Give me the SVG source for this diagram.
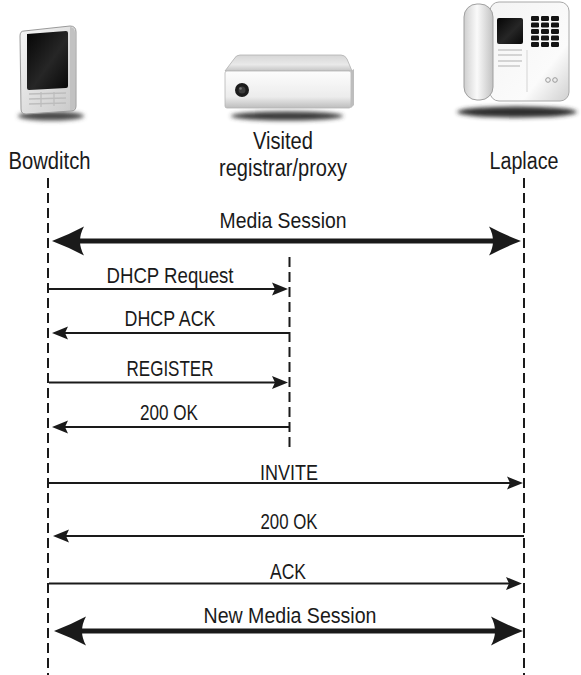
<svg xmlns="http://www.w3.org/2000/svg" width="581" height="675" viewBox="0 0 581 675">
  <style>
    text { font-family: "Liberation Sans", Arial, sans-serif; fill: #1a1a1a; text-anchor: middle; }
    .node-label { font-size: 23.5px; }
    .msg-label { font-size: 22px; }
    .lifeline { stroke: #1a1a1a; stroke-width: 2; stroke-dasharray: 10 5; fill: none; }
    .msg { stroke: #1a1a1a; stroke-width: 2; fill: none; marker-end: url(#ah); }
    .session { stroke: #1a1a1a; stroke-width: 5; fill: none; marker-start: url(#ahb); marker-end: url(#ahb); }
  </style>
  <defs>
    <marker id="ah" markerUnits="userSpaceOnUse" viewBox="0 0 16 14" refX="8" refY="7" markerWidth="16" markerHeight="14" orient="auto-start-reverse">
      <path d="M0,0.5 L16,7 L0,13.5 L3,7 Z" fill="#1a1a1a"/>
    </marker>
    <marker id="ahb" markerUnits="userSpaceOnUse" viewBox="0 0 32 30" refX="12" refY="15" markerWidth="32" markerHeight="30" orient="auto-start-reverse">
      <path d="M0,0.5 Q16,9 32,15 Q16,21 0,29.5 Q8,15 0,0.5 Z" fill="#1a1a1a"/>
    </marker>
    <filter id="soft" x="-30%" y="-100%" width="160%" height="300%">
      <feGaussianBlur stdDeviation="2.2"/>
    </filter>
    <linearGradient id="bodyGrad" x1="0" y1="0" x2="1" y2="1">
      <stop offset="0" stop-color="#f7f7f7"/>
      <stop offset="1" stop-color="#c8c8c8"/>
    </linearGradient>
    <linearGradient id="screenGrad" x1="0" y1="0" x2="1" y2="1">
      <stop offset="0" stop-color="#050505"/>
      <stop offset="0.55" stop-color="#262626"/>
      <stop offset="1" stop-color="#080808"/>
    </linearGradient>
    <linearGradient id="topGrad" x1="0" y1="0" x2="0" y2="1">
      <stop offset="0" stop-color="#d6d6d6"/>
      <stop offset="0.6" stop-color="#e9e9e9"/>
      <stop offset="1" stop-color="#c4c4c4"/>
    </linearGradient>
    <linearGradient id="frontGrad" x1="0" y1="0" x2="0" y2="1">
      <stop offset="0" stop-color="#fdfdfd"/>
      <stop offset="0.7" stop-color="#ececec"/>
      <stop offset="1" stop-color="#bdbdbd"/>
    </linearGradient>
    <linearGradient id="handsetGrad" x1="0" y1="0" x2="1" y2="0">
      <stop offset="0" stop-color="#cfcfcf"/>
      <stop offset="0.45" stop-color="#fafafa"/>
      <stop offset="1" stop-color="#c2c2c2"/>
    </linearGradient>
    <linearGradient id="baseGrad" x1="0" y1="0" x2="1" y2="1">
      <stop offset="0" stop-color="#f4f4f4"/>
      <stop offset="0.7" stop-color="#fbfbfb"/>
      <stop offset="1" stop-color="#d0d0d0"/>
    </linearGradient>
  </defs>

  <!-- Bowditch: handheld device -->
  <g id="bowditch">
    <ellipse cx="51" cy="116" rx="33" ry="4.5" fill="#4a4a4a" filter="url(#soft)"/>
    <path d="M24,31 L70,26 Q76,26 76,32 L76,106 Q76,111 71,111 L26,114 Q21,114 21,109 L20,36 Q20,31 24,31 Z" fill="url(#bodyGrad)" stroke="#9a9a9a" stroke-width="1"/>
    <path d="M70,27 Q75,27 75,33 L75,106 Q75,110 71,110 L70,110 Z" fill="#c2c2c2"/>
    <path d="M27,34 L66,31 Q68,31 68,33 L68,86 Q68,88 66,88 L29,90 Q27,90 27,88 Z" fill="url(#screenGrad)"/>
    <g stroke="#bdbdbd" stroke-width="1.3">
      <line x1="29" y1="94" x2="66" y2="93"/>
      <line x1="29" y1="99" x2="66" y2="98"/>
      <line x1="29" y1="104" x2="66" y2="103"/>
      <line x1="41" y1="92" x2="41" y2="107"/>
      <line x1="54" y1="92" x2="54" y2="106"/>
    </g>
    <text class="node-label" x="49.5" y="168.5" textLength="82" lengthAdjust="spacingAndGlyphs">Bowditch</text>
  </g>

  <!-- Visited registrar/proxy: server box -->
  <g id="proxy">
    <ellipse cx="287" cy="116" rx="56" ry="4.5" fill="#3a3a3a" filter="url(#soft)"/>
    <path d="M240,55 L341,55 Q345,55 347,59 L352,71 L225,71 L234,59 Q236,55 240,55 Z" fill="url(#topGrad)" stroke="#b0b0b0" stroke-width="0.8"/>
    <rect x="225" y="71" width="126" height="37" rx="2" fill="url(#frontGrad)" stroke="#b5b5b5" stroke-width="0.8"/>
    <path d="M351,71 L354,69 L354,105 L351,108 Z" fill="#bdbdbd"/>
    <circle cx="242" cy="90" r="7" fill="#1c1c1c"/>
    <circle cx="242" cy="90" r="3.5" fill="#3c3c3c"/>
    <circle cx="240.5" cy="88.5" r="1.3" fill="#777"/>
    <text class="node-label" x="283" y="148.5" textLength="60" lengthAdjust="spacingAndGlyphs">Visited</text>
    <text class="node-label" x="283" y="176" textLength="128" lengthAdjust="spacingAndGlyphs">registrar/proxy</text>
  </g>

  <!-- Laplace: desk phone -->
  <g id="laplace">
    <ellipse cx="517" cy="112" rx="60" ry="5.5" fill="#2e2e2e" filter="url(#soft)"/>
    <rect x="490" y="2" width="79" height="99" rx="9" fill="url(#baseGrad)" stroke="#a8a8a8" stroke-width="1"/>
    <rect x="464" y="4" width="29" height="96" rx="13" fill="url(#handsetGrad)" stroke="#a0a0a0" stroke-width="1"/>
    <rect x="497" y="18" width="26" height="26" rx="2" fill="url(#screenGrad)"/>
    <g fill="#141414">
      <rect x="531" y="16" width="8" height="5" rx="1.2"/>
      <rect x="541" y="16" width="8" height="5" rx="1.2"/>
      <rect x="551" y="16" width="8" height="5" rx="1.2"/>
      <rect x="531" y="22.5" width="8" height="5" rx="1.2"/>
      <rect x="541" y="22.5" width="8" height="5" rx="1.2"/>
      <rect x="551" y="22.5" width="8" height="5" rx="1.2"/>
      <rect x="531" y="29" width="8" height="5" rx="1.2"/>
      <rect x="541" y="29" width="8" height="5" rx="1.2"/>
      <rect x="551" y="29" width="8" height="5" rx="1.2"/>
      <rect x="531" y="35.5" width="8" height="5" rx="1.2"/>
      <rect x="541" y="35.5" width="8" height="5" rx="1.2"/>
      <rect x="551" y="35.5" width="8" height="5" rx="1.2"/>
      <rect x="531" y="42" width="8" height="5" rx="1.2"/>
      <rect x="541" y="42" width="8" height="5" rx="1.2"/>
      <rect x="551" y="42" width="8" height="5" rx="1.2"/>
    </g>
    <g stroke="#bcbcbc" stroke-width="1.2">
      <line x1="498" y1="50" x2="522" y2="50"/>
      <line x1="498" y1="55" x2="522" y2="55"/>
      <line x1="498" y1="61" x2="522" y2="61"/>
      <line x1="498" y1="66" x2="520" y2="66"/>
      <line x1="527" y1="50" x2="527" y2="92" stroke="#dadada"/>
    </g>
    <circle cx="548" cy="80" r="2.3" fill="none" stroke="#9a9a9a" stroke-width="1"/>
    <circle cx="555" cy="80" r="2.3" fill="none" stroke="#9a9a9a" stroke-width="1"/>
    <text class="node-label" x="524" y="168.5" textLength="69" lengthAdjust="spacingAndGlyphs">Laplace</text>
  </g>

  <!-- Lifelines and messages -->
  <g id="connectors">
    <line class="lifeline" x1="48" y1="178" x2="48" y2="675"/>
    <line class="lifeline" x1="289.5" y1="257" x2="289.5" y2="447"/>
    <line class="lifeline" x1="524" y1="178" x2="524" y2="675"/>

    <line class="session" x1="72" y1="241" x2="501" y2="241"/>
    <line class="msg" x1="49" y1="289" x2="280" y2="289"/>
    <line class="msg" x1="289" y1="333" x2="60" y2="333"/>
    <line class="msg" x1="49" y1="382.5" x2="280" y2="382.5"/>
    <line class="msg" x1="289" y1="427" x2="60" y2="427"/>
    <line class="msg" x1="49" y1="483" x2="515" y2="483"/>
    <line class="msg" x1="524" y1="536" x2="61" y2="536"/>
    <line class="msg" x1="49" y1="583.5" x2="514" y2="583.5"/>
    <line class="session" x1="74" y1="631" x2="503" y2="631"/>
  </g>

  <!-- Message labels -->
  <g id="labels">
    <text class="msg-label" x="283" y="228.3" textLength="127" lengthAdjust="spacingAndGlyphs">Media Session</text>
    <text class="msg-label" x="170" y="283.3" textLength="127" lengthAdjust="spacingAndGlyphs">DHCP Request</text>
    <text class="msg-label" x="170" y="326" textLength="91" lengthAdjust="spacingAndGlyphs">DHCP ACK</text>
    <text class="msg-label" x="170" y="376" textLength="87" lengthAdjust="spacingAndGlyphs">REGISTER</text>
    <text class="msg-label" x="169" y="420" textLength="58" lengthAdjust="spacingAndGlyphs">200 OK</text>
    <text class="msg-label" x="289" y="480" textLength="58" lengthAdjust="spacingAndGlyphs">INVITE</text>
    <text class="msg-label" x="289" y="529" textLength="57" lengthAdjust="spacingAndGlyphs">200 OK</text>
    <text class="msg-label" x="288" y="579" textLength="36" lengthAdjust="spacingAndGlyphs">ACK</text>
    <text class="msg-label" x="290" y="623.3" textLength="173" lengthAdjust="spacingAndGlyphs">New Media Session</text>
  </g>
</svg>
